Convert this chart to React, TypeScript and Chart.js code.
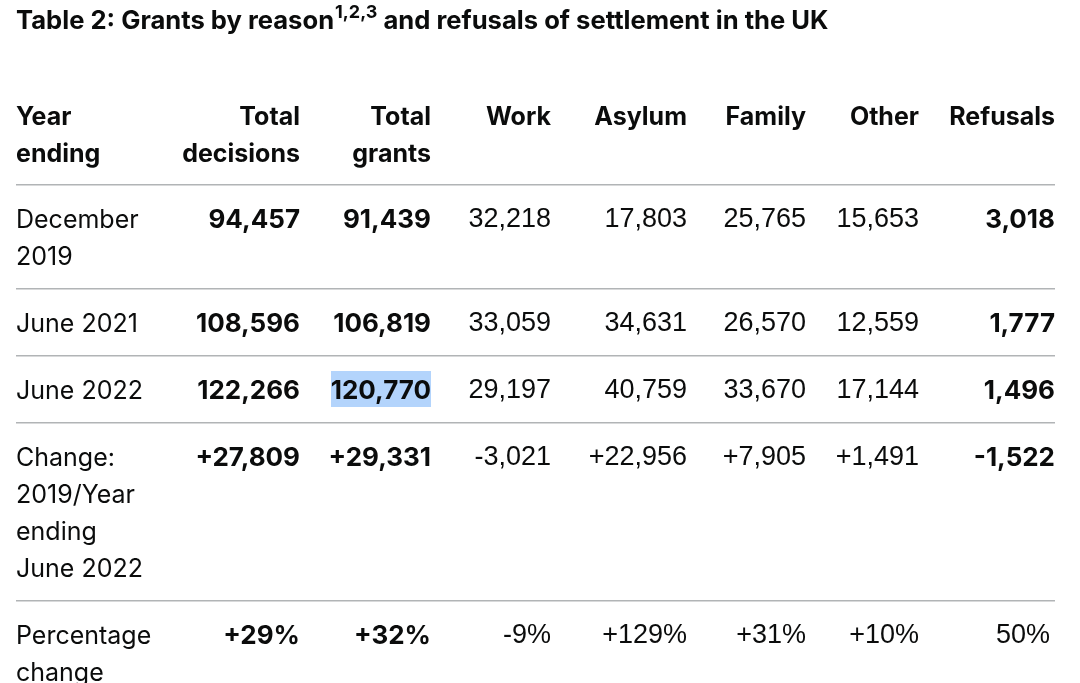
import React, { useEffect, useRef } from "react";
import { Chart, registerables } from "chart.js";

Chart.register(...registerables);

// ---------- data ----------
const titleMain = "Table 2: Grants by reason";
const titleSup = "1,2,3";
const titleRest = " and refusals of settlement in the UK";

const columnHeaders: string[][] = [
  ["Year", "ending"],
  ["Total", "decisions"],
  ["Total", "grants"],
  ["Work"],
  ["Asylum"],
  ["Family"],
  ["Other"],
  ["Refusals"],
];

const rowLabels: string[][] = [
  ["December", "2019"],
  ["June 2021"],
  ["June 2022"],
  ["Change:", "2019/Year", "ending", "June 2022"],
  ["Percentage", "change"],
];

const totalDecisions = ["94,457", "108,596", "122,266", "+27,809", "+29%"];
const totalGrants = ["91,439", "106,819", "120,770", "+29,331", "+32%"];
const work = ["32,218", "33,059", "29,197", "-3,021", "-9%"];
const asylum = ["17,803", "34,631", "40,759", "+22,956", "+129%"];
const family = ["25,765", "26,570", "33,670", "+7,905", "+31%"];
const other = ["15,653", "12,559", "17,144", "+1,491", "+10%"];
const refusals = ["3,018", "1,777", "1,496", "-1,522", "50%"];

const valueColumns = [totalDecisions, totalGrants, work, asylum, family, other, refusals];
const boldColumns = [true, true, false, false, false, false, true];

// ---------- layout / style ----------
const W = 1080;
const H = 683;
const LEFT = 16;
const COL_RIGHT = [300, 431, 551, 687, 806, 919, 1055];
const LINE_H = 37;
const HEADER_FIRST = 117;
const TEXT_FONT = "Inter, Roboto, sans-serif";
const NUM_FONT = "'Liberation Sans', Arial, sans-serif";
const INK = "#0b0c0c";
const RULE = "#b1b4b6";
const HIGHLIGHT = "#b3d4fc";

const tablePlugin = {
  id: "tableDraw",
  afterDraw(chart: any) {
    const ctx: CanvasRenderingContext2D = chart.ctx;
    ctx.save();
    ctx.fillStyle = "#ffffff";
    ctx.fillRect(0, 0, W, H);
    ctx.fillStyle = INK;
    ctx.textBaseline = "middle";

    // title
    ctx.textAlign = "left";
    ctx.font = `700 25.6px ${TEXT_FONT}`;
    ctx.fillText(titleMain, LEFT, 21);
    let x = LEFT + ctx.measureText(titleMain).width + 1;
    ctx.font = `700 18px ${TEXT_FONT}`;
    ctx.fillText(titleSup, x, 13);
    x += ctx.measureText(titleSup).width;
    ctx.font = `700 25.6px ${TEXT_FONT}`;
    ctx.fillText(titleRest, x, 21);

    // header
    ctx.font = `700 25px ${TEXT_FONT}`;
    columnHeaders.forEach((lines, c) => {
      lines.forEach((t, i) => {
        const y = HEADER_FIRST + i * LINE_H;
        if (c === 0) {
          ctx.textAlign = "left";
          ctx.fillText(t, LEFT, y);
        } else {
          ctx.textAlign = "right";
          ctx.fillText(t, COL_RIGHT[c - 1], y);
        }
      });
    });

    const drawRule = (y: number) => {
      ctx.fillStyle = RULE;
      ctx.fillRect(LEFT, Math.round(y), COL_RIGHT[COL_RIGHT.length - 1] - LEFT, 1.5);
      ctx.fillStyle = INK;
    };

    let rule = 184;
    rowLabels.forEach((labels, r) => {
      drawRule(rule);
      const first = Math.round(rule) + 36;
      if (r === 2) {
        ctx.fillStyle = HIGHLIGHT;
        ctx.fillRect(331, first - 20, 100, 36);
        ctx.fillStyle = INK;
      }
      ctx.textAlign = "left";
      ctx.font = `400 25px ${TEXT_FONT}`;
      labels.forEach((t, i) => ctx.fillText(t, LEFT, first + i * LINE_H));
      valueColumns.forEach((col, c) => {
        const bold = boldColumns[c] && !(c === 6 && r === 4);
        ctx.textAlign = "right";
        ctx.font = bold ? `700 26px ${TEXT_FONT}` : `400 27px ${NUM_FONT}`;
        const rx = COL_RIGHT[c] - (c === 6 && r === 4 ? 5 : 0);
        ctx.fillText(col[r], rx, first);
      });
      rule = first + LINE_H * (labels.length - 1) + 30.6;
    });
    ctx.restore();
  },
};

export default function App() {
  const ref = useRef<HTMLCanvasElement | null>(null);
  useEffect(() => {
    document.body.style.margin = "0";
    const canvas = ref.current!;
    const chart = new Chart(canvas, {
      type: "bar",
      data: { labels: rowLabels.map((l) => l.join(" ")), datasets: [] },
      options: {
        animation: false,
        responsive: false,
        maintainAspectRatio: false,
        events: [],
        layout: { padding: 0 },
        plugins: { legend: { display: false }, tooltip: { enabled: false } },
        scales: { x: { display: false }, y: { display: false } },
      },
      plugins: [tablePlugin],
    });
    return () => chart.destroy();
  }, []);
  return <canvas ref={ref} width={W} height={H} style={{ display: "block", width: W, height: H }} />;
}
